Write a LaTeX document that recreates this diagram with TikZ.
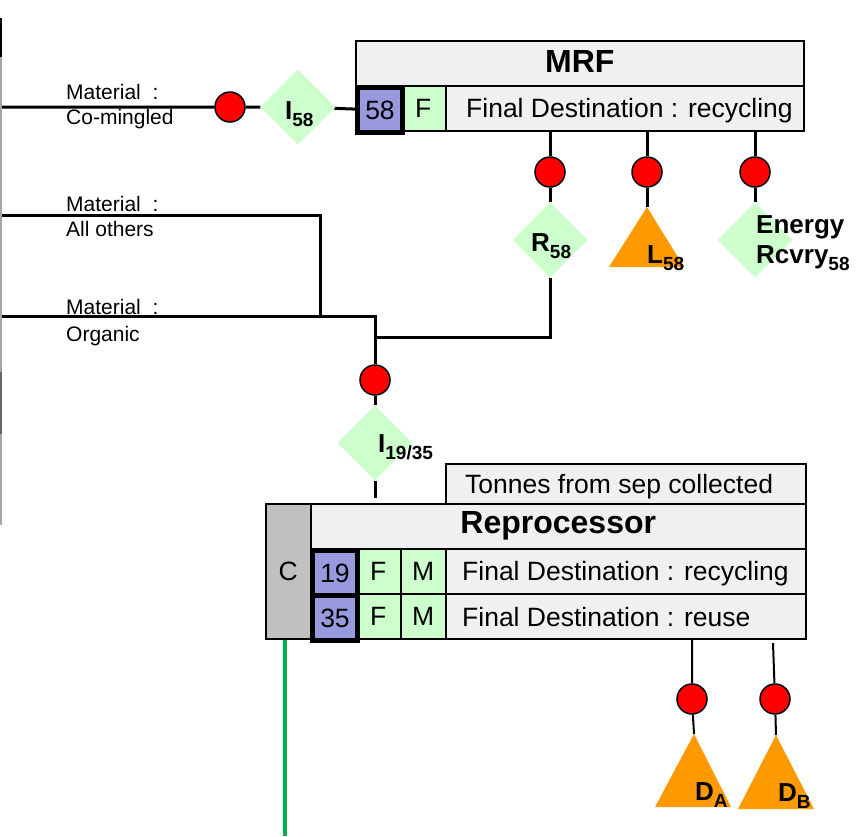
\documentclass[tikz,border=0pt]{standalone}
\usepackage{fontspec}
\setmainfont{Liberation Sans}
\usetikzlibrary{shapes.geometric,backgrounds}
\definecolor{boxgray}{RGB}{240,240,240}
\definecolor{cellblue}{RGB}{153,153,221}
\definecolor{cellgreen}{RGB}{204,255,204}
\definecolor{cgray}{RGB}{192,192,192}
\definecolor{dotred}{RGB}{255,0,0}
\definecolor{triorange}{RGB}{255,153,0}
\definecolor{linegreen}{RGB}{0,176,80}
\newcommand\fmat{\fontsize{21pt}{24pt}\selectfont}
\newcommand\fnorm{\fontsize{26.5pt}{30pt}\selectfont}
\newcommand\ftitle{\fontsize{32pt}{36pt}\selectfont\bfseries}
\newcommand\flbl{\fontsize{26pt}{30pt}\selectfont\bfseries}
\newcommand\subtxt[1]{\raisebox{-7pt}{\fontsize{19pt}{20pt}\selectfont\bfseries #1}}
\begin{document}
\begin{tikzpicture}[x=1pt,y=-1pt,
  cell/.style={draw=black, line width=1.5pt, anchor=north west, inner sep=0pt, minimum height=45pt, font=\fnorm},
  gcell/.style={cell, fill=boxgray},
  fcell/.style={cell, fill=cellgreen, minimum width=45pt},
  ncell/.style={cell, fill=cellblue, line width=5pt, minimum width=45pt},
  dot/.style={circle, draw=black, line width=1.5pt, fill=dotred, minimum size=30pt, inner sep=0pt},
  dia/.style={diamond, fill=cellgreen, minimum width=75pt, minimum height=75pt, inner sep=0pt},
  conn/.style={draw=black, line width=3pt},
  thin conn/.style={draw=black, line width=2pt},
  txt/.style={anchor=base west, inner sep=0pt},
  tri/.style={fill=triorange}
]
\useasboundingbox (0,0) rectangle (860,836);

% ---------- MRF ----------
\node[gcell, minimum width=448pt, font=\ftitle, text depth=4pt] (mrfT) at (355,40) {MRF};
\node[gcell, minimum width=358pt] (mrfD) at (445,85) {};
\node[fcell] (mrfF) at (400,85) {F};
\node[ncell] (mrf58) at (355,85) {58};
\node[txt, font=\fnorm] (mrfDt) at (466,117) {Final Destination : recycling};

% ---------- Reprocessor ----------
\node[gcell, minimum width=360pt, minimum height=40pt] (tonnes) at (445,463) {};
\node[txt, font=\fnorm] (tonnest) at (465,493) {Tonnes from sep collected};
\node[gcell, minimum width=495pt, font=\ftitle] (repT) at (310,503) {Reprocessor};
\node[gcell, minimum width=360pt] (r19D) at (445,548) {};
\node[gcell, minimum width=360pt] (r35D) at (445,593) {};
\node[fcell] (r19F) at (355,548) {F};
\node[fcell] (r19M) at (400,548) {M};
\node[fcell] (r35F) at (355,593) {F};
\node[fcell] (r35M) at (400,593) {M};
\node[cell, fill=cgray, minimum width=45pt, minimum height=135pt] (repC) at (265,503) {C};
\node[ncell] (r19) at (310,548) {19};
\node[ncell] (r35) at (310,593) {35};
\node[txt, font=\fnorm] (r19Dt) at (462,580) {Final Destination : recycling};
\node[txt, font=\fnorm] (r35Dt) at (462,626) {Final Destination : reuse};

% ---------- flow markers ----------
\node[dot] (c1) at (230,107) {};
\node[dia] (dI58) at (298,107) {};
\node[txt, font=\flbl] (lI58) at (285,119) {I\subtxt{58}};

\node[dot] (c2) at (550,172) {};
\node[dot] (c3) at (647,172) {};
\node[dot] (c4) at (755,172) {};
\node[dia] (dR58) at (550,240) {};
\node[txt, font=\flbl] (lR58) at (531,251) {R\subtxt{58}};
\coordinate (tL) at (647,207);
\fill[tri] (tL) -- (684,267) -- (609,267) -- cycle;
\node[txt, font=\flbl] (lL58) at (647,263) {L\subtxt{58}};
\node[dia] (dE) at (755,240) {};
\node[txt, font=\flbl] (lE1) at (756,233) {Energy};
\node[txt, font=\flbl] (lE2) at (756,263) {Rcvry\subtxt{58}};

\node[dot] (c5) at (375,380) {};
\node[dia] (dI19) at (375,443) {};
\node[txt, font=\flbl] (lI19) at (378,452) {I\subtxt{19/35}};

\node[dot] (c6) at (692,699) {};
\node[dot] (c7) at (775,699) {};
\coordinate (tA) at (694,734);
\fill[tri] (tA) -- (731,807) -- (655,807) -- cycle;
\coordinate (tB) at (776,735);
\fill[tri] (tB) -- (814,809) -- (738,809) -- cycle;
\node[txt, font=\flbl] (lDA) at (695,800) {D\subtxt{A}};
\node[txt, font=\flbl] (lDB) at (778,801) {D\subtxt{B}};

% ---------- material labels ----------
\node[txt, font=\fmat] (m1a) at (66,99) {Material\ \ :};
\node[txt, font=\fmat] (m1b) at (66,124) {Co-mingled};
\node[txt, font=\fmat] (m2a) at (66,211) {Material\ \ :};
\node[txt, font=\fmat] (m2b) at (66,236) {All others};
\node[txt, font=\fmat] (m3a) at (66,314) {Material\ \ :};
\node[txt, font=\fmat] (m3b) at (66,341) {Organic};

% ---------- left edge ----------
\draw[line width=2pt, black!35] (1,18) -- (1,525);
\draw[line width=2pt, black] (1,18) -- (1,57);
\draw[line width=2pt, black!60] (1,372) -- (1,434);

% ---------- connectors ----------
\coordinate (inA) at (0,107);
\coordinate (inB) at (0,215);
\coordinate (inC) at (0,316);
\coordinate (allCorner) at (320,215);
\coordinate (allEnd) at (320,316);
\coordinate (orgCorner) at (375,316);
\coordinate (i19End) at (375,498);
\coordinate (rJoin) at (550,337);
\coordinate (orgJoin) at (375,337);
\coordinate (sB) at (773,643);
\coordinate (gEnd) at (285,836);
\begin{scope}[on background layer]
\fill[white] (0,0) rectangle (860,836);
\draw[conn] (inA) -- (c1) -- (dI58) -- (mrf58);
\draw[conn] (inB) -- (allCorner) -- (allEnd);
\draw[conn] (inC) -- (orgCorner) -- (c5) -- (dI19) -- (i19End);
\draw[conn] (dR58) -- (rJoin) -- (orgJoin);
\draw[conn] (c2 |- mrfD.south) -- (c2) -- (dR58);
\draw[conn] (c3 |- mrfD.south) -- (c3) -- (tL);
\draw[conn] (c4 |- mrfD.south) -- (c4) -- (dE);
\draw[thin conn] (c6 |- r35D.south) -- (c6) -- (tA);
\draw[thin conn] (sB) -- (c7) -- (tB);
\draw[line width=3.5pt, linegreen] (gEnd |- repC.south) -- (gEnd);
\end{scope}
\end{tikzpicture}
\end{document}
